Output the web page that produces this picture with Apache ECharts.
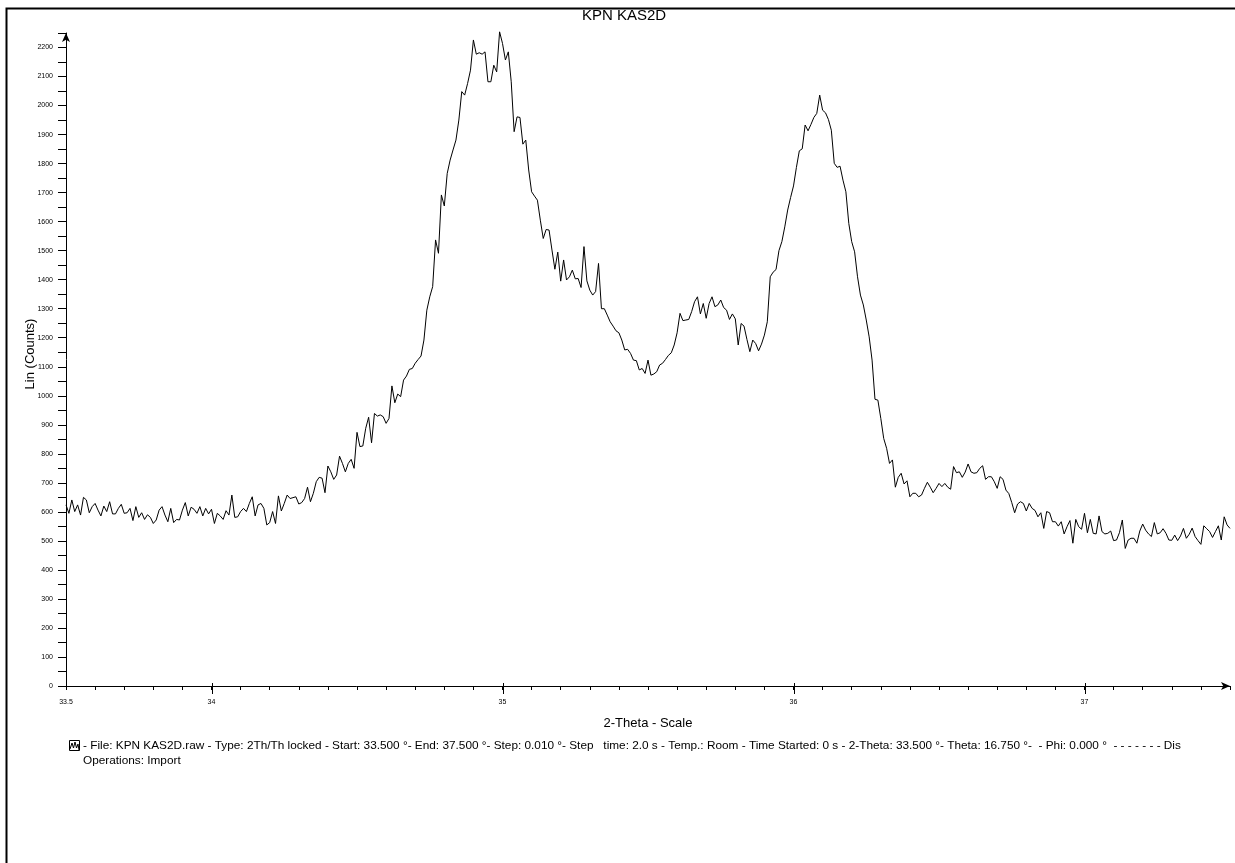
<!DOCTYPE html>
<html><head><meta charset="utf-8">
<title>KPN KAS2D</title>
<script src="https://cdn.jsdelivr.net/npm/echarts@6/dist/echarts.min.js"></script>
<style>
  html, body { margin: 0; padding: 0; background: #fff; }
  #chart { width: 1235px; height: 863px; }
</style>
</head>
<body>
<div id="chart"></div>
<script>
// scan settings (from the file header)
var thetaStart = 33.5, thetaStep = 0.01;
var xLabelValues = [33.5, 34, 35, 36, 37];
var xMajorTicks = [34, 35, 36, 37];

// counts, one per 0.01 deg step
var counts = [
  624,595,641,601,624,589,650,641,597,618,
  629,606,586,620,601,635,593,593,612,626,
  595,597,612,570,618,581,597,574,590,581,
  560,572,606,618,589,566,612,563,574,572,
  606,632,586,616,609,595,618,586,612,593,
  609,560,595,586,574,604,589,658,581,583,
  601,612,601,629,652,586,624,629,612,555,
  563,601,560,655,603,629,658,646,649,652,
  627,632,646,685,635,664,704,719,716,666,
  758,738,712,727,792,767,738,767,781,750,
  874,825,827,888,926,838,939,930,934,928,
  905,922,1034,976,1006,997,1054,
  1068,1091,1094,1112,1125,1137,1192,1295,1341,1376,
  1537,1491,1692,1654,1766,1812,1847,1881,1950,2048,
  2036,2076,2122,2226,2177,2182,2177,2185,2082,2082,
  2139,2116,2254,2214,2157,2185,2082,1910,1961,1959,
  1867,1881,1778,1703,1688,1674,1605,1542,1573,1571,
  1502,1436,1495,1395,1468,1399,1410,1433,1403,1404,
  1373,1514,1396,1364,1347,1359,1456,1300,1300,1278,
  1255,1240,1224,1217,1192,1158,1160,1146,1123,1121,
  1089,1094,1077,1123,1071,1075,1083,1106,
  1112,1125,1139,1148,1175,1217,1284,1259,1261,1263,
  1290,1324,1341,1282,1318,1267,1318,1341,1307,1313,
  1330,1304,1295,1263,1282,1265,1175,1249,1240,1194,
  1152,1192,1180,1155,1178,1209,1255,1410,1426,1435,
  1500,1531,1582,1640,1683,1723,1787,1844,1851,1933,
  1913,1935,1959,1973,2036,1984,1975,1952,1915,1801,
  1787,1791,1743,1703,1594,1531,1496,1410,1347,1313,
  1261,1203,1123,988,985,922,853,819,767,779,
  685,719,733,696,707,652,664,664,652,658,
  681,702,685,666,681,698,687,698,685,678,
  756,735,738,
  719,737,765,738,733,735,750,759,712,721,
  721,704,681,721,712,675,663,632,597,627,
  635,629,603,629,612,605,583,597,543,601,
  597,566,566,551,566,524,549,570,492,574,
  549,540,595,528,574,526,524,586,532,524,
  526,534,501,503,528,572,474,503,509,509,
  492,534,558,537,524,515,563,524,528,542,
  526,503,502,520,501,517,543,509,523,544,
  515,501,488,552,542,532,512,532,552,503,
  583,555,543
];

var titleText = 'KPN KAS2D';
var yName = 'Lin (Counts)';
var xName = '2-Theta - Scale';
var legendLine1 = '- File: KPN KAS2D.raw - Type: 2Th/Th locked - Start: 33.500 \u00b0- End: 37.500 \u00b0- Step: 0.010 \u00b0- Step   time: 2.0 s - Temp.: Room - Time Started: 0 s - 2-Theta: 33.500 \u00b0- Theta: 16.750 \u00b0-  - Phi: 0.000 \u00b0  - - - - - - - Dis';
var legendLine2 = 'Operations: Import';

var FONT = '"Liberation Sans", Arial, Helvetica, sans-serif';

var seriesData = counts.map(function (c, i) {
  return [+(thetaStart + i * thetaStep).toFixed(2), c];
});

function isLabelValue(v) {
  for (var k = 0; k < xLabelValues.length; k++) {
    if (Math.abs(v - xLabelValues[k]) < 1e-6) return true;
  }
  return false;
}

var chart = echarts.init(document.getElementById('chart'), null, { renderer: 'canvas' });

var option = {
  animation: false,
  backgroundColor: '#fff',
  title: {
    text: titleText,
    left: 582,
    top: 8,
    padding: 0,
    textStyle: { fontFamily: FONT, fontSize: 15, fontWeight: 'normal', color: '#000' }
  },
  grid: { left: 66, right: 5, top: 33, bottom: 177, containLabel: false },
  xAxis: {
    type: 'value',
    min: 33.5,
    max: 37.5,
    interval: 0.1,
    axisLine: {
      show: true,
      symbol: ['none', 'arrow'],
      symbolSize: [6, 9],
      lineStyle: { color: '#000', width: 1 }
    },
    axisTick: { show: true, length: 4, lineStyle: { color: '#000' } },
    axisLabel: {
      show: true,
      margin: 13,
      fontSize: 7,
      fontFamily: FONT,
      color: '#000',
      formatter: function (v) { return isLabelValue(v) ? String(+v.toFixed(1)) : ''; }
    },
    splitLine: { show: false },
    name: xName,
    nameLocation: 'middle',
    nameGap: 31,
    nameTextStyle: { fontFamily: FONT, fontSize: 13, color: '#000' }
  },
  yAxis: {
    type: 'value',
    min: 0,
    max: 2250,
    interval: 50,
    axisLine: {
      show: true,
      symbol: ['none', 'arrow'],
      symbolSize: [6, 9],
      lineStyle: { color: '#000', width: 1 }
    },
    axisTick: { show: true, length: 8, lineStyle: { color: '#000' } },
    axisLabel: {
      margin: 13,
      fontSize: 7,
      fontFamily: FONT,
      color: '#000',
      formatter: function (v) { return v % 100 === 0 ? String(v) : ''; }
    },
    splitLine: { show: false }
  },
  series: [
    {
      type: 'line',
      data: seriesData,
      showSymbol: false,
      symbol: 'none',
      clip: false,
      lineStyle: { color: '#000', width: 1 }
    },
    {
      // longer ticks at whole degrees
      type: 'custom',
      data: xMajorTicks.map(function (v) { return [v, 0]; }),
      clip: false,
      silent: true,
      renderItem: function (params, api) {
        var p = api.coord([api.value(0), 0]);
        return {
          type: 'line',
          shape: { x1: Math.round(p[0]) + 0.5, y1: p[1] - 3, x2: Math.round(p[0]) + 0.5, y2: p[1] + 8 },
          style: { stroke: '#000', lineWidth: 1 }
        };
      }
    }
  ],
  graphic: [
    // outer frame
    { type: 'rect', shape: { x: 6.5, y: 8.5, width: 1400, height: 1000 },
      style: { fill: 'none', stroke: '#000', lineWidth: 2 }, silent: true },
    // y axis name
    { type: 'text', x: 30, y: 354, rotation: Math.PI / 2,
      style: { text: yName, fontFamily: FONT, fontSize: 13, fill: '#000', align: 'center', verticalAlign: 'middle' },
      silent: true },
    // legend icon
    { type: 'rect', shape: { x: 69.5, y: 740.5, width: 10, height: 10 },
      style: { fill: 'none', stroke: '#000', lineWidth: 1 }, silent: true },
    { type: 'polyline', shape: { points: [[70, 749], [72, 743], [73.5, 748], [75, 742], [76.5, 748], [78, 744], [79, 750]] },
      style: { fill: 'none', stroke: '#000', lineWidth: 1 }, silent: true },
    { type: 'text', left: 83, top: 739.5,
      style: { text: legendLine1, fontFamily: FONT, fontSize: 11.8, fill: '#000' }, silent: true },
    { type: 'text', left: 83, top: 754.5,
      style: { text: legendLine2, fontFamily: FONT, fontSize: 11.8, fill: '#000' }, silent: true }
  ]
};

chart.setOption(option);
</script>
</body></html>
